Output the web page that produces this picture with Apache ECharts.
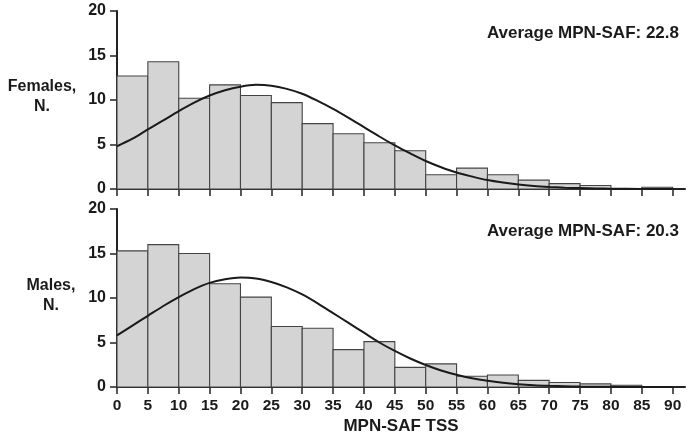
<!DOCTYPE html>
<html>
<head>
<meta charset="utf-8">
<script src="https://cdn.jsdelivr.net/npm/echarts@6/dist/echarts.min.js"></script>
<style>html,body{margin:0;padding:0;background:#fff}#c{width:689px;height:439px}</style>
</head>
<body>
<div id="c"></div>
<script>
const binStarts = [0,5,10,15,20,25,30,35,40,45,50,55,60,65,70,75,80,85];
const binWidth = 5;
const femalesCounts = [12.7,14.3,10.2,11.7,10.5,9.7,7.35,6.2,5.2,4.3,1.6,2.35,1.6,1.0,0.6,0.4,0,0.2];
const malesCounts = [15.3,16.0,15.0,11.6,10.1,6.8,6.6,4.2,5.1,2.2,2.6,1.2,1.35,0.75,0.5,0.35,0.2,0];
const curveX = [0,2.5,5,7.5,10,12.5,15,17.5,20,22.5,25,27.5,30,32.5,35,37.5,40,42.5,45,47.5,50,52.5,55,57.5,60,62.5,65,67.5,70,72.5,75,77.5,80,85,90];
const femalesCurve = [4.8,5.65,6.7,7.7,8.75,9.7,10.5,11.1,11.5,11.7,11.6,11.25,10.7,9.9,9.0,8.0,6.95,5.9,4.9,4.0,3.15,2.45,1.85,1.4,1.0,0.72,0.5,0.34,0.23,0.15,0.1,0.06,0.04,0.01,0];
const malesCurve = [5.8,6.9,8.0,9.1,10.1,11.0,11.7,12.1,12.3,12.2,11.8,11.2,10.4,9.4,8.3,7.2,6.1,5.0,4.05,3.2,2.47,1.86,1.38,0.99,0.7,0.48,0.32,0.21,0.14,0.09,0.05,0.03,0.02,0.005,0];
const xTickValues = [0,5,10,15,20,25,30,35,40,45,50,55,60,65,70,75,80,85,90];
const panelLabels = ['Females,\nN.', 'Males,\nN.'];
const averageLabels = ['Average MPN-SAF: 22.8', 'Average MPN-SAF: 20.3'];
const xAxisTitle = 'MPN-SAF TSS';

const FONT = '"Liberation Sans", Arial, sans-serif';
const TXT = '#1a1a1a';

function histData(counts){ return binStarts.map((s,i)=>[s, s+binWidth, counts[i]]); }
function curveData(ys){ return curveX.map((x,i)=>[x, ys[i]]); }

function renderBin(params, api){
  const v = api.value(2);
  if (!v) return null;
  const p0 = api.coord([api.value(0), v]);
  const p1 = api.coord([api.value(1), 0]);
  return {type:'rect', shape:{x:p0[0], y:p0[1], width:p1[0]-p0[0], height:p1[1]-p0[1]},
    style:{fill:'#d4d4d4', stroke:'#444', lineWidth:1.1}};
}

function xAxisCfg(idx, showLabels){
  return {
    type:'value', gridIndex:idx, min:0, max:92, interval:5,
    axisLine:{show:true, onZero:false, lineStyle:{color:'#222', width:2}},
    axisTick:{show:true, length:7, customValues:xTickValues, lineStyle:{color:'#222', width:1.5}},
    axisLabel:{show:showLabels, customValues:xTickValues, margin:11, color:TXT, fontSize:15.5, fontWeight:'bold', fontFamily:FONT},
    splitLine:{show:false},
    name: showLabels ? xAxisTitle : '', nameLocation:'middle', nameGap:31,
    nameTextStyle:{color:TXT, fontSize:17, fontWeight:'bold', fontFamily:FONT}
  };
}
function yAxisCfg(idx){
  return {
    type:'value', gridIndex:idx, min:0, max:20, interval:5,
    axisLine:{show:true, lineStyle:{color:'#222', width:2}},
    axisTick:{show:true, length:7, lineStyle:{color:'#222', width:1.5}},
    axisLabel:{margin:11, color:TXT, fontSize:16, fontWeight:'bold', fontFamily:FONT},
    splitLine:{show:false}
  };
}

const chart = echarts.init(document.getElementById('c'), null, {renderer:'canvas'});
chart.setOption({
  animation:false,
  backgroundColor:'#fff',
  grid:[
    {left:117, top:11, width:568, height:178},
    {left:117, top:209, width:568, height:178}
  ],
  xAxis:[xAxisCfg(0,false), xAxisCfg(1,true)],
  yAxis:[yAxisCfg(0), yAxisCfg(1)],
  series:[
    {type:'custom', xAxisIndex:0, yAxisIndex:0, renderItem:renderBin, data:histData(femalesCounts), z:2},
    {type:'line', xAxisIndex:0, yAxisIndex:0, data:curveData(femalesCurve), smooth:0.3, showSymbol:false, symbol:'none',
      lineStyle:{color:'#1a1a1a', width:2}, z:5},
    {type:'custom', xAxisIndex:1, yAxisIndex:1, renderItem:renderBin, data:histData(malesCounts), z:2},
    {type:'line', xAxisIndex:1, yAxisIndex:1, data:curveData(malesCurve), smooth:0.3, showSymbol:false, symbol:'none',
      lineStyle:{color:'#1a1a1a', width:2}, z:5}
  ],
  graphic:[
    {type:'text', x:42, y:97, style:{text:panelLabels[0], align:'center', verticalAlign:'middle', fill:TXT, font:'bold 16px '+FONT, lineHeight:20}},
    {type:'text', x:51, y:296, style:{text:panelLabels[1], align:'center', verticalAlign:'middle', fill:TXT, font:'bold 16px '+FONT, lineHeight:20}},
    {type:'text', x:679, y:33, style:{text:averageLabels[0], align:'right', verticalAlign:'middle', fill:TXT, font:'bold 17px '+FONT}},
    {type:'text', x:679, y:231, style:{text:averageLabels[1], align:'right', verticalAlign:'middle', fill:TXT, font:'bold 17px '+FONT}}
  ]
});
</script>
</body>
</html>
